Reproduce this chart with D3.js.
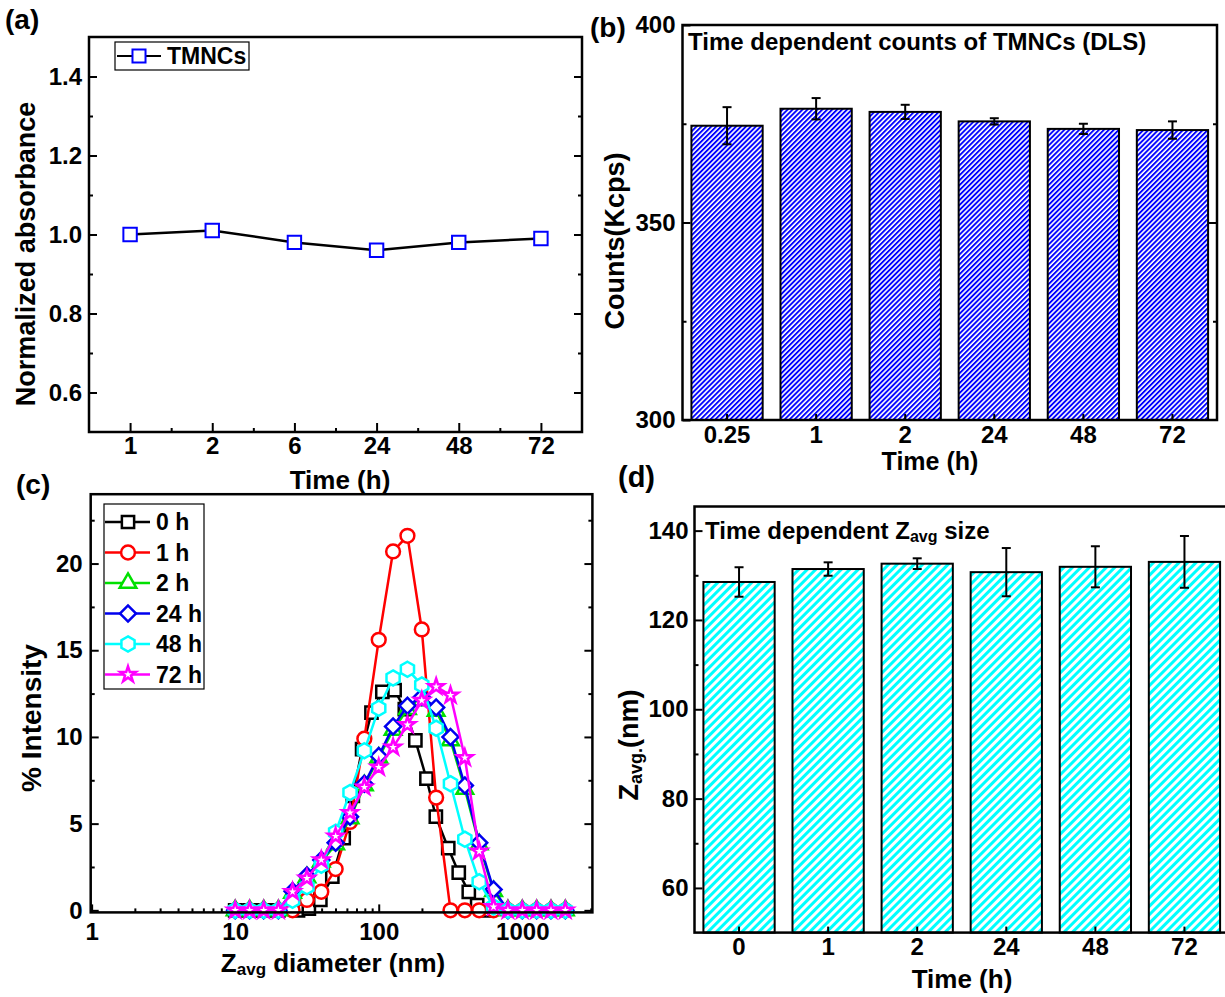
<!DOCTYPE html>
<html>
<head>
<meta charset="utf-8">
<script src="https://cdn.jsdelivr.net/npm/d3@7"></script>
<style>
body { margin: 0; background: #fff; }
svg text { font-family: "Liberation Sans", Arial, sans-serif; font-weight: bold; fill: #000; }
</style>
</head>
<body>
<div class="figure"></div>
<script>
// (a) normalized absorbance over time
var absTimes = ["1", "2", "6", "24", "48", "72"];
var absValues = [1.0, 1.01, 0.98, 0.96, 0.98, 0.99];

// (b) DLS counts
var countTimes = ["0.25", "1", "2", "24", "48", "72"];
var countValues = [374.5, 378.8, 378.0, 375.6, 373.7, 373.4];
var countErrors = [4.7, 2.7, 1.8, 0.8, 1.3, 2.2];

// (c) size distributions
var dlsBins = [10, 12.6, 15.8, 20, 25.1, 31.6, 39.8, 50.1, 63.1, 79.4, 100, 125.9, 158.5, 199.5, 251.2, 316.2, 398.1, 501.2, 631, 794.3, 1000, 1259, 1585, 1995];
var bins0h = [10, 12.6, 15.8, 20, 27.4, 32.6, 39.2, 47.5, 57, 66, 76.6, 89, 106, 129, 152, 180, 215, 250, 305, 361, 424, 485, 560];
var int0h = [0, 0, 0, 0, 0, 0.1, 0.6, 1.94, 4.16, 6.6, 9.3, 11.4, 12.6, 12.7, 11.6, 9.8, 7.6, 5.4, 3.58, 2.17, 1.07, 0.3, 0];
var int1h = [0, 0, 0, 0, 0, 0.6, 1.07, 2.38, 5.1, 9.9, 15.6, 20.7, 21.6, 16.2, 6.5, 0, 0, 0, 0, 0, 0, 0, 0, 0];
var int2h = [0, 0, 0, 0, 1.0, 1.9, 2.8, 3.8, 5.3, 7.2, 8.8, 10.4, 11.6, 12.1, 11.5, 9.8, 7.0, 3.8, 1.1, 0, 0, 0, 0, 0];
var int24h = [0, 0, 0, 0, 1.1, 2.0, 2.9, 3.9, 5.4, 7.3, 8.9, 10.6, 11.8, 12.3, 11.7, 10.0, 7.2, 3.9, 1.2, 0, 0, 0, 0, 0];
var int48h = [0, 0, 0, 0, 0.58, 1.36, 2.6, 4.5, 6.8, 9.2, 11.65, 13.4, 13.9, 13.0, 10.5, 7.3, 4.1, 1.65, 0.2, 0, 0, 0, 0, 0];
var int72h = [0, 0, 0, 0, 1.07, 1.85, 2.9, 4.27, 5.63, 7.1, 8.25, 9.4, 10.7, 12.1, 12.9, 12.4, 8.8, 3.4, 0.2, 0, 0, 0, 0, 0];
var seriesNames = ["0 h", "1 h", "2 h", "24 h", "48 h", "72 h"];

// (d) Z-average size
var zTimes = ["0", "1", "2", "24", "48", "72"];
var zValues = [128.5, 131.4, 132.6, 130.7, 131.9, 133.0];
var zErrors = [3.3, 1.5, 1.2, 5.4, 4.6, 5.8];

var svg = d3.select(".figure").append("svg")
    .attr("width", 1225)
    .attr("height", 997)
    .style("background", "#fff");

var defs = svg.append("defs");

//Diagonal hatch used to fill the bars.
function hatch(id, color, gap, lineW) {
    var p = defs.append("pattern").attr("id", id)
        .attr("patternUnits", "userSpaceOnUse")
        .attr("width", gap).attr("height", gap)
        .attr("patternTransform", "rotate(45)");
    p.append("rect").attr("width", gap).attr("height", gap).attr("fill", "#fff");
    p.append("rect").attr("width", lineW).attr("height", gap).attr("fill", color);
}
hatch("hatchBlue", "#0000ff", 3.5, 1.9);
hatch("hatchCyan", "#00ffff", 6, 3);

function frame(b) {
    svg.append("rect").attr("x", b.left).attr("y", b.top)
        .attr("width", b.right - b.left).attr("height", b.bottom - b.top)
        .attr("fill", "none").attr("stroke", "#000").attr("stroke-width", 2.5);
}

function styleAxis(g) {
    g.select(".domain").remove();
    g.attr("font-size", 24);
    g.selectAll("line").attr("stroke", "#000").attr("stroke-width", 2);
    return g;
}

function addAxis(axis, tx, ty) {
    return styleAxis(svg.append("g").attr("transform", "translate(" + tx + "," + ty + ")").call(axis));
}

function label(txt, x, y, size, anchor) {
    return svg.append("text").attr("x", x).attr("y", y)
        .attr("font-size", size).attr("text-anchor", anchor || "start").text(txt);
}

function vlabel(txt, x, y, size) {
    return svg.append("text").attr("transform", "translate(" + x + "," + y + ") rotate(-90)")
        .attr("font-size", size).attr("text-anchor", "middle").text(txt);
}

//Hexagon with a pointed top, built from its radius.
var symbolHexagon = {
    draw: function(context, size) {
        var r = Math.sqrt(size / 2.598);
        for (var i = 0; i < 6; i++) {
            var a = Math.PI / 3 * i - Math.PI / 2;
            if (i === 0) context.moveTo(r * Math.cos(a), r * Math.sin(a));
            else context.lineTo(r * Math.cos(a), r * Math.sin(a));
        }
        context.closePath();
    }
};

// ---------------- (a) ----------------
var aBox = {left: 89, top: 37, right: 582, bottom: 432};
var xA = d3.scaleLinear().domain([-0.5, absTimes.length - 0.5]).range([aBox.left, aBox.right]);
var yA = d3.scaleLinear().domain([0.5, 1.5]).range([aBox.bottom, aBox.top]);

addAxis(d3.axisLeft(yA).tickValues([0.6, 0.8, 1.0, 1.2, 1.4]).tickFormat(d3.format(".1f")).tickSize(-8).tickPadding(7), aBox.left, 0);
addAxis(d3.axisLeft(yA).tickValues([0.7, 0.9, 1.1, 1.3]).tickFormat("").tickSize(-4), aBox.left, 0);
addAxis(d3.axisRight(yA).tickValues([0.6, 0.8, 1.0, 1.2, 1.4]).tickFormat("").tickSize(-8), aBox.right, 0);
addAxis(d3.axisRight(yA).tickValues([0.7, 0.9, 1.1, 1.3]).tickFormat("").tickSize(-4), aBox.right, 0);
addAxis(d3.axisBottom(xA).tickValues(d3.range(absTimes.length)).tickFormat(function(i) { return absTimes[i]; }).tickSize(-9).tickPadding(5), 0, aBox.bottom);
addAxis(d3.axisBottom(xA).tickValues(d3.range(absTimes.length - 1).map(function(i) { return i + 0.5; })).tickFormat("").tickSize(-4), 0, aBox.bottom);

svg.append("path").datum(absValues)
    .attr("fill", "none").attr("stroke", "#000").attr("stroke-width", 2.5)
    .attr("d", d3.line().x(function(d, i) { return xA(i); }).y(function(d) { return yA(d); }));

svg.selectAll(".absPt").data(absValues).enter().append("path")
    .attr("transform", function(d, i) { return "translate(" + xA(i) + "," + yA(d) + ")"; })
    .attr("d", d3.symbol(d3.symbolSquare, 180))
    .attr("fill", "#fff").attr("stroke", "#0000ff").attr("stroke-width", 2);

frame(aBox);

//Legend of (a).
svg.append("rect").attr("x", 115).attr("y", 42).attr("width", 134).attr("height", 28)
    .attr("fill", "#fff").attr("stroke", "#000").attr("stroke-width", 1.2);
svg.append("line").attr("x1", 117).attr("x2", 161).attr("y1", 56).attr("y2", 56)
    .attr("stroke", "#000").attr("stroke-width", 2);
svg.append("path").attr("transform", "translate(139,56)").attr("d", d3.symbol(d3.symbolSquare, 170))
    .attr("fill", "#fff").attr("stroke", "#0000ff").attr("stroke-width", 2);
label("TMNCs", 167, 64, 23);

label("Time (h)", 340, 489, 26, "middle");
vlabel("Normalized absorbance", 35, 254, 27);
label("(a)", 5, 29, 28);

// ---------------- (b) ----------------
var bBox = {left: 682.5, top: 25, right: 1217, bottom: 420};
var xB = d3.scaleBand().domain(countTimes).range([bBox.left, bBox.right]).paddingInner(0.2).paddingOuter(0.1);
var yB = d3.scaleLinear().domain([300, 400]).range([bBox.bottom, bBox.top]);

svg.selectAll(".countBar").data(countValues).enter().append("rect")
    .attr("x", function(d, i) { return xB(countTimes[i]); })
    .attr("y", function(d) { return yB(d); })
    .attr("width", xB.bandwidth())
    .attr("height", function(d) { return bBox.bottom - yB(d); })
    .attr("fill", "url(#hatchBlue)").attr("stroke", "#000").attr("stroke-width", 2);

function errorBars(values, errors, cats, x, y) {
    values.forEach(function(v, i) {
        var cx = x(cats[i]) + x.bandwidth() / 2;
        var g = svg.append("g").attr("stroke", "#000").attr("stroke-width", 2);
        g.append("line").attr("x1", cx).attr("x2", cx).attr("y1", y(v - errors[i])).attr("y2", y(v + errors[i]));
        g.append("line").attr("x1", cx - 4.5).attr("x2", cx + 4.5).attr("y1", y(v - errors[i])).attr("y2", y(v - errors[i]));
        g.append("line").attr("x1", cx - 4.5).attr("x2", cx + 4.5).attr("y1", y(v + errors[i])).attr("y2", y(v + errors[i]));
    });
}
errorBars(countValues, countErrors, countTimes, xB, yB);

addAxis(d3.axisLeft(yB).tickValues([300, 350, 400]).tickSize(-8).tickPadding(7), bBox.left, 0);
addAxis(d3.axisLeft(yB).tickValues([325, 375]).tickFormat("").tickSize(-4), bBox.left, 0);
addAxis(d3.axisRight(yB).tickValues([350]).tickFormat("").tickSize(-8), bBox.right, 0);
addAxis(d3.axisRight(yB).tickValues([325, 375]).tickFormat("").tickSize(-4), bBox.right, 0);
addAxis(d3.axisBottom(xB).tickSize(-6).tickPadding(6), 0, bBox.bottom);

frame(bBox);

label("Time dependent counts of TMNCs (DLS)", 688, 50, 24);
label("Time (h)", 930, 470, 25, "middle");
vlabel("Counts(Kcps)", 624, 241, 27);
label("(b)", 590, 37, 28);

// ---------------- (c) ----------------
var cBox = {left: 90.7, top: 494.2, right: 592.4, bottom: 912.4};
var xC = d3.scaleLog().domain([0.985, 3080]).range([cBox.left, cBox.right]);
var yC = d3.scaleLinear().domain([-0.12, 24]).range([cBox.bottom, cBox.top]);

var minorLog = [];
[1, 10, 100, 1000].forEach(function(dec) {
    for (var k = 2; k <= 9; k++) if (k * dec <= 3000) minorLog.push(k * dec);
});

addAxis(d3.axisLeft(yC).tickValues([0, 5, 10, 15, 20]).tickSize(-8).tickPadding(8), cBox.left, 0);
addAxis(d3.axisLeft(yC).tickValues([2.5, 7.5, 12.5, 17.5, 22.5]).tickFormat("").tickSize(-4), cBox.left, 0);
addAxis(d3.axisRight(yC).tickValues([0, 5, 10, 15, 20]).tickFormat("").tickSize(-8), cBox.right, 0);
addAxis(d3.axisRight(yC).tickValues([2.5, 7.5, 12.5, 17.5, 22.5]).tickFormat("").tickSize(-4), cBox.right, 0);
addAxis(d3.axisBottom(xC).tickValues([1, 10, 100, 1000]).tickFormat(d3.format("d")).tickSize(-8).tickPadding(11), 0, cBox.bottom);
addAxis(d3.axisBottom(xC).tickValues(minorLog).tickFormat("").tickSize(-4), 0, cBox.bottom);

var seriesList = [
    {bins: bins0h, values: int0h, color: "#000000", symbol: d3.symbolSquare, size: 150, rotate: 0},
    {bins: dlsBins, values: int1h, color: "#ff0000", symbol: d3.symbolCircle, size: 150, rotate: 0},
    {bins: dlsBins, values: int2h, color: "#00e000", symbol: d3.symbolTriangle, size: 120, rotate: 0},
    {bins: dlsBins, values: int24h, color: "#0000ee", symbol: d3.symbolSquare, size: 128, rotate: 45},
    {bins: dlsBins, values: int48h, color: "#00ffff", symbol: symbolHexagon, size: 150, rotate: 0},
    {bins: dlsBins, values: int72h, color: "#ff00ff", symbol: d3.symbolStar, size: 75, rotate: 0}
];

seriesList.forEach(function(s) {
    var pts = s.values.map(function(v, i) { return [s.bins[i], v]; });
    svg.append("path").datum(pts)
        .attr("fill", "none").attr("stroke", s.color).attr("stroke-width", 2.5)
        .attr("d", d3.line().x(function(d) { return xC(d[0]); }).y(function(d) { return yC(d[1]); }));
    svg.append("g").selectAll("path").data(pts).enter().append("path")
        .attr("transform", function(d) { return "translate(" + xC(d[0]) + "," + yC(d[1]) + ") rotate(" + s.rotate + ")"; })
        .attr("d", d3.symbol(s.symbol, s.size))
        .attr("fill", "#fff").attr("stroke", s.color).attr("stroke-width", 2.5);
});

frame(cBox);

//Legend of (c).
svg.append("rect").attr("x", 104).attr("y", 504).attr("width", 100).attr("height", 185)
    .attr("fill", "#fff").attr("stroke", "#000").attr("stroke-width", 1.2);
seriesList.forEach(function(s, i) {
    var ly = 522 + i * 30.5;
    svg.append("line").attr("x1", 105).attr("x2", 150).attr("y1", ly).attr("y2", ly)
        .attr("stroke", s.color).attr("stroke-width", 2.5);
    svg.append("path").attr("transform", "translate(128," + ly + ") rotate(" + s.rotate + ")")
        .attr("d", d3.symbol(s.symbol, s.size))
        .attr("fill", "#fff").attr("stroke", s.color).attr("stroke-width", 2.5);
    label(seriesNames[i], 156, ly + 8, 23);
});

var zLabel = label("Z", 333, 972, 26, "middle");
zLabel.append("tspan").attr("font-size", 17).attr("dy", 3).text("avg");
zLabel.append("tspan").attr("dy", -3).text(" diameter (nm)");
vlabel("% Intensity", 41, 718, 28);
label("(c)", 16, 494, 28);

// ---------------- (d) ----------------
var dBox = {left: 694.5, top: 506.5, right: 1229, bottom: 932.6};
var xD = d3.scaleBand().domain(zTimes).range([dBox.left, dBox.right]).paddingInner(0.2).paddingOuter(0.1);
var yD = d3.scaleLinear().domain([50, 145.4]).range([dBox.bottom, dBox.top]);

svg.selectAll(".zBar").data(zValues).enter().append("rect")
    .attr("x", function(d, i) { return xD(zTimes[i]); })
    .attr("y", function(d) { return yD(d); })
    .attr("width", xD.bandwidth())
    .attr("height", function(d) { return dBox.bottom - yD(d); })
    .attr("fill", "url(#hatchCyan)").attr("stroke", "#000").attr("stroke-width", 2);

errorBars(zValues, zErrors, zTimes, xD, yD);

addAxis(d3.axisLeft(yD).tickValues([60, 80, 100, 120, 140]).tickSize(-8).tickPadding(6), dBox.left, 0);
addAxis(d3.axisLeft(yD).tickValues([70, 90, 110, 130]).tickFormat("").tickSize(-4), dBox.left, 0);
addAxis(d3.axisBottom(xD).tickSize(-6).tickPadding(5), 0, dBox.bottom);

frame(dBox);

var dTitle = label("Time dependent Z", 705, 539, 24);
dTitle.append("tspan").attr("font-size", 16).attr("dy", 3).text("avg");
dTitle.append("tspan").attr("dy", -3).text(" size");
label("Time (h)", 962, 988, 26, "middle");
var zyLabel = svg.append("text").attr("transform", "translate(638,745) rotate(-90)")
    .attr("font-size", 27).attr("text-anchor", "middle").text("Z");
zyLabel.append("tspan").attr("font-size", 18).attr("dy", 4).text("avg.");
zyLabel.append("tspan").attr("dy", -4).text("(nm)");
label("(d)", 618, 487, 29);
</script>
</body>
</html>
